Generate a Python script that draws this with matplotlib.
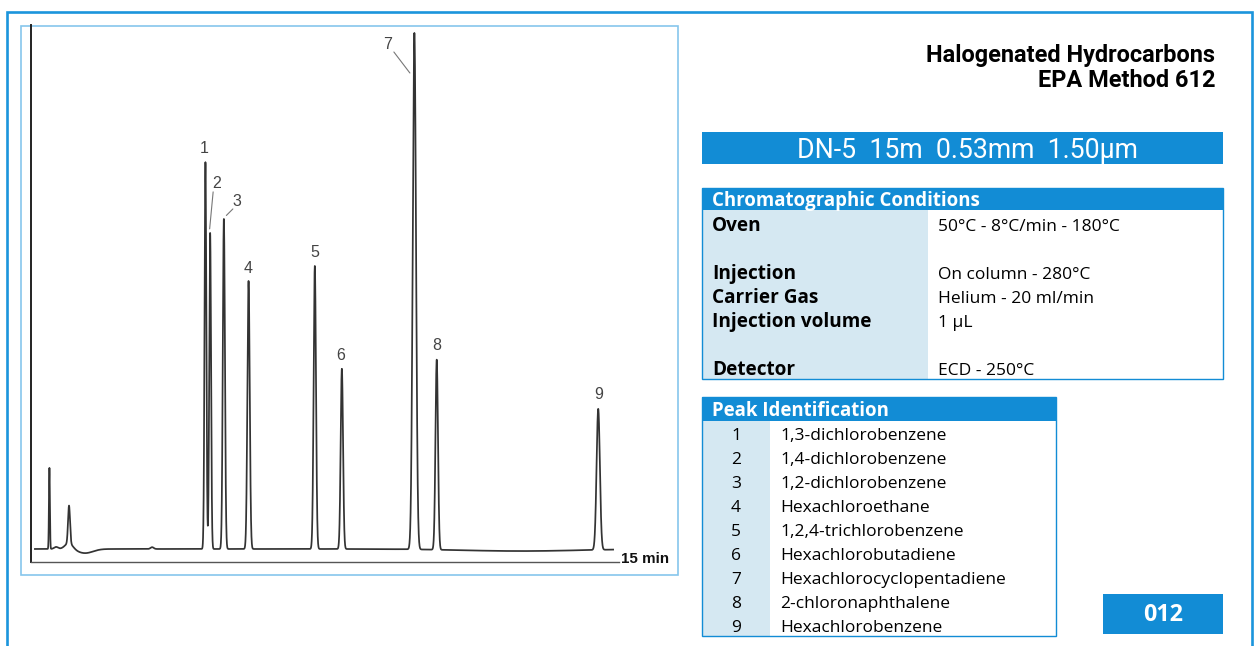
import numpy as np
import matplotlib
matplotlib.use("Agg")
import matplotlib.pyplot as plt
from matplotlib.patches import Rectangle
from matplotlib.lines import Line2D
from matplotlib.transforms import offset_copy

# ---------------- data ----------------
peak_ids = ["1", "2", "3", "4", "5", "6", "7", "8", "9"]
peak_rt = [4.45, 4.57, 4.92, 5.55, 7.24, 7.93, 9.78, 10.35, 14.47]          # min
peak_height = [74.9, 61.2, 63.9, 51.9, 54.8, 34.9, 100.0, 36.8, 27.3]       # % of largest
peak_sigma = [0.023, 0.023, 0.027, 0.03, 0.03, 0.03, 0.042, 0.032, 0.042]  # min

# minor (unlabelled) features: solvent / baseline disturbances
minor_rt = [0.47, 0.64, 0.97, 0.97, 1.38, 3.09, 12.5]
minor_height = [15.7, 0.4, 7.3, 1.2, -0.8, 0.35, -0.4]
minor_sigma = [0.012, 0.05, 0.025, 0.1, 0.2, 0.04, 1.5]

run_start, run_end = 0.1, 14.85
axis_end_label = "15 min"

compounds = ["1,3-dichlorobenzene", "1,4-dichlorobenzene", "1,2-dichlorobenzene",
             "Hexachloroethane", "1,2,4-trichlorobenzene", "Hexachlorobutadiene",
             "Hexachlorocyclopentadiene", "2-chloronaphthalene", "Hexachlorobenzene"]

cond_labels = ["Oven", "", "Injection", "Carrier Gas", "Injection volume", "", "Detector"]
cond_values = ["50°C - 8°C/min - 180°C", "", "On column - 280°C", "Helium - 20 ml/min",
               "1 µL", "", "ECD - 250°C"]

title_lines = ["Halogenated Hydrocarbons", "EPA Method 612"]
column_text = "DN-5  15m  0.53mm  1.50µm"
app_number = "012"

# ---------------- styling ----------------
W, H = 1257, 646
BLUE = "#128cd5"
FRAME = "#1b95dc"
LIGHT = "#d5e8f2"
CHART_FRAME = "#86c6ec"
TRACE = "#333333"

fig = plt.figure(figsize=(W / 100, H / 100), dpi=100)
bg = fig.add_axes([0, 0, 1, 1])
bg.set_xlim(0, W)
bg.set_ylim(H, 0)
bg.axis("off")
renderer = fig.canvas.get_renderer()


def fit(t, target):
    w = t.get_window_extent(renderer).width
    t.set_fontsize(t.get_fontsize() * target / w)
    return t.get_fontsize()


# outer page frame
bg.add_line(Line2D([7, 7, 1252, 1252], [H, 12, 12, H], color=FRAME, lw=1.9,
                   solid_joinstyle="miter"))
# chart frame
bg.add_patch(Rectangle((21, 26), 657, 549, fill=False, ec=CHART_FRAME, lw=1.2))

# title
t1 = bg.text(1215, 62, title_lines[0], ha="right", va="baseline",
             family="Roboto", weight="bold", fontsize=14, color="black")
fs = fit(t1, 290)
bg.text(1215, 87, title_lines[1], ha="right", va="baseline",
        family="Roboto", weight="bold", fontsize=fs, color="black")

# column banner
bg.add_patch(Rectangle((702, 132), 521, 32, fc=BLUE, ec="none"))
bg.text(967, 158, column_text, ha="center", va="baseline",
        family="Roboto", weight="normal", fontsize=19.2, color="white")

# chromatographic conditions box
bx, bw = 702, 521
bg.add_patch(Rectangle((bx, 210), 226, 169, fc=LIGHT, ec="none"))
bg.add_patch(Rectangle((bx, 188), bw, 191, fill=False, ec=BLUE, lw=1.0))
bg.add_patch(Rectangle((bx, 188), bw, 22, fc=BLUE, ec="none"))
th = bg.text(712, 206, "Chromatographic Conditions", ha="left", va="baseline",
             family="Open Sans", weight="bold", fontsize=12, color="white")
hfs = fit(th, 267)

tb = bg.text(712, 0, "Injection volume", family="Open Sans", weight="bold",
             fontsize=12, va="baseline")
bfs = fit(tb, 159)
tb.remove()
tr = bg.text(780, 0, compounds[6], family="Open Sans", fontsize=12, va="baseline")
rfs = fit(tr, 223)
tr.remove()

row_y0, row_dy = 231, 24
for i, (lab, val) in enumerate(zip(cond_labels, cond_values)):
    y = row_y0 + i * row_dy
    if lab:
        bg.text(712, y, lab, ha="left", va="baseline", family="Open Sans",
                weight="bold", fontsize=bfs, color="black")
    if val:
        bg.text(938, y, val, ha="left", va="baseline", family="Open Sans",
                fontsize=rfs, color="black")

# peak identification box
px, pw = 702, 354
bg.add_patch(Rectangle((px, 421), 68, 215, fc=LIGHT, ec="none"))
bg.add_patch(Rectangle((px, 397), pw, 239, fill=False, ec=BLUE, lw=1.0))
bg.add_patch(Rectangle((px, 397), pw, 24, fc=BLUE, ec="none"))
bg.text(712, 416, "Peak Identification", ha="left", va="baseline",
        family="Open Sans", weight="bold", fontsize=hfs, color="white")
for i, (pid, name) in enumerate(zip(peak_ids, compounds)):
    y = 440 + i * 24
    bg.text(736, y, pid, ha="center", va="baseline", family="Open Sans",
            fontsize=rfs, color="black")
    bg.text(780, y, name, ha="left", va="baseline", family="Open Sans",
            fontsize=rfs, color="black")

# application number box
bg.add_patch(Rectangle((1103, 594), 120, 40, fc=BLUE, ec="none"))
tn = bg.text(1163, 621, app_number, ha="center", va="baseline", family="Open Sans",
             weight="bold", fontsize=13, color="white")
fit(tn, 40)

# ---------------- chromatogram ----------------
ax_l, ax_r, ax_t, ax_b = 31, 619, 25, 562
ax = fig.add_axes([ax_l / W, (H - ax_b) / H, (ax_r - ax_l) / W, (ax_b - ax_t) / H])
ax.patch.set_alpha(0)
ax.set_xlim(0, 15)
ax.set_ylim(-2.52, 101.45)

t = np.linspace(run_start, run_end, 12000)
signal = np.zeros_like(t)
for rt, h, s in zip(peak_rt + minor_rt, peak_height + minor_height, peak_sigma + minor_sigma):
    signal += h * np.exp(-0.5 * ((t - rt) / s) ** 2)
ax.plot(t, signal, color=TRACE, lw=1.25, solid_joinstyle="round")

for side in ["top", "right"]:
    ax.spines[side].set_visible(False)
ax.spines["left"].set_color("#222222")
ax.spines["left"].set_linewidth(1.4)
ax.spines["bottom"].set_color("#555555")
ax.spines["bottom"].set_linewidth(1.0)
ax.set_xticks([])
ax.set_yticks([])

# peak labels: text offset (px) from the apex, optional leader line (start, end offsets)
label_offsets = {"1": (-1, 14), "2": (6.5, 49), "3": (13, 17), "4": (0, 12), "5": (0, 13),
                 "6": (-1, 13), "7": (-26.5, -12.5), "8": (0, 13), "9": (0, 13)}
leaders = {"2": ((3, 41), (-0.5, 4)), "3": ((9, 10), (2.5, 3.5)),
           "7": ((-20.5, -19.5), (-4.5, -40.5))}
for pid, rt, h in zip(peak_ids, peak_rt, peak_height):
    dx, dy = label_offsets[pid]
    tr_ = offset_copy(ax.transData, fig=fig, x=dx, y=dy, units="dots")
    ax.text(rt, h, pid, transform=tr_, ha="center", va="center",
            family="Liberation Sans", fontsize=11.5, color="#444444")
    if pid in leaders:
        (sx, sy), (ex, ey) = leaders[pid]
        ta = offset_copy(ax.transData, fig=fig, x=sx, y=sy, units="dots")
        tb_ = offset_copy(ax.transData, fig=fig, x=ex, y=ey, units="dots")
        ax.annotate("", xy=(rt, h), xycoords=tb_, xytext=(rt, h), textcoords=ta,
                    arrowprops=dict(arrowstyle="-", color="#777777", lw=0.8,
                                    shrinkA=0, shrinkB=0))

bg.text(621, 563, axis_end_label, ha="left", va="baseline", family="Liberation Sans",
        weight="bold", fontsize=10, color="#111111")
fit(bg.texts[-1], 48)

fig.savefig("out.png", dpi=100)
